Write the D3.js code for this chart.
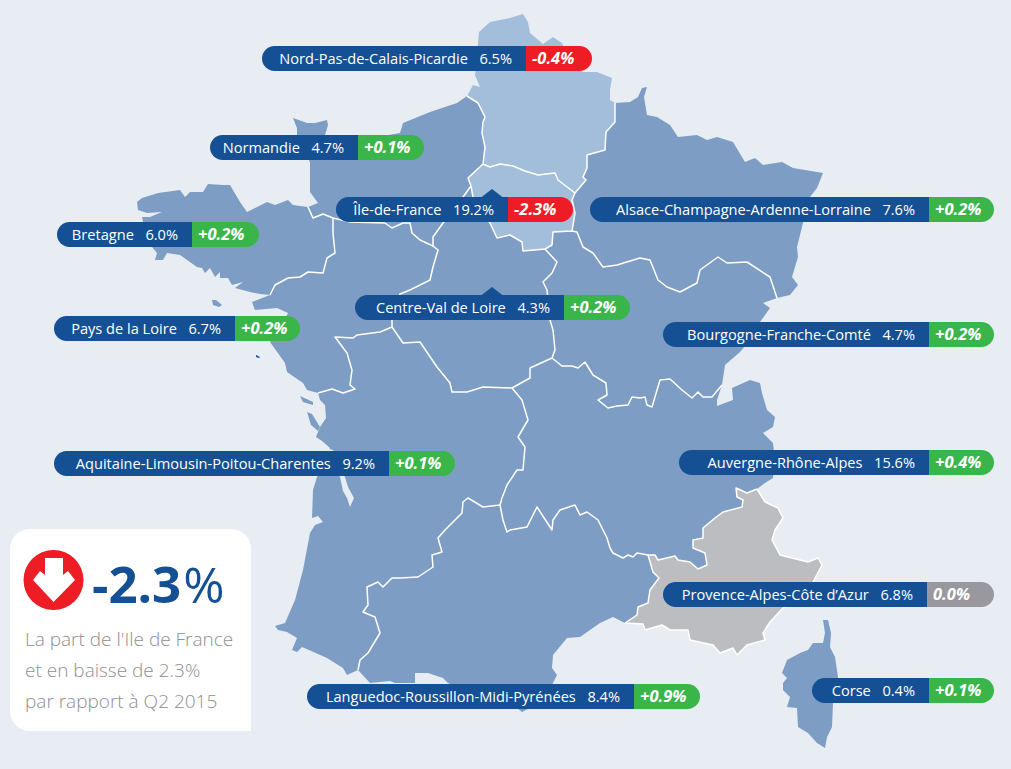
<!DOCTYPE html>
<html>
<head>
<meta charset="utf-8">
<script src="https://cdnjs.cloudflare.com/ajax/libs/d3/7.8.5/d3.min.js"></script>
<style>
html,body{margin:0;padding:0;background:#e8edf4;}
svg{display:block;}
text{font-family:"Open Sans","Noto Sans",sans-serif;white-space:pre;}
</style>
</head>
<body>
<svg id="c" width="1011" height="769"></svg>
<script>
// ---- values
const regionNames = ["Nord-Pas-de-Calais-Picardie","Normandie","Île-de-France","Alsace-Champagne-Ardenne-Lorraine","Bretagne","Centre-Val de Loire","Pays de la Loire","Bourgogne-Franche-Comté","Aquitaine-Limousin-Poitou-Charentes","Auvergne-Rhône-Alpes","Provence-Alpes-Côte d’Azur","Languedoc-Roussillon-Midi-Pyrénées","Corse"];
const shares  = [6.5,4.7,19.2,7.6,6.0,4.3,6.7,4.7,9.2,15.6,6.8,8.4,0.4];
const changes = [-0.4,0.1,-2.3,0.2,0.2,0.2,0.2,0.2,0.1,0.4,0.0,0.9,0.1];
const calloutValue = "-2.3";
const calloutLines = ["La part de l'Ile de France","et en baisse de 2.3%","par rapport à Q2 2015"];

// ---- map geometry (shared borders and coasts)
const coastNord=[[467,96],[473,85],[480,87],[475,75],[477,58],[478,43],[479,32],[490,22],[510,18],[523,14],[528,22],[530,33],[543,44],[553,37],[562,43],[570,60],[583,72],[597,72],[612,78],[610,90],[610,100],[615,103]];
const bNordAlsace=[[615,103],[615,122],[606,132],[605,150],[587,155],[587,168],[583,177],[586,180],[575,193]];
const bNordIdf=[[575,193],[558,180],[555,173],[538,175],[525,171],[513,166],[500,164],[490,167],[483,164]];
const bNordNorm=[[483,164],[485,147],[482,133],[483,122],[485,117],[478,103],[467,96]];
const bIdfNorm=[[483,164],[468,178],[471,186]];
const bIdfAlsace=[[575,193],[572,200],[575,213],[572,231]];
const bIdfBourg=[[572,231],[553,232],[552,245],[545,249]];
const bIdfCentre=[[545,249],[523,251],[522,242],[510,235],[497,238],[490,223],[478,205],[473,197],[471,186]];
const coastNorm=[[308,207],[318,203],[310,192],[310,163],[305,148],[297,135],[297,128],[293,118],[307,123],[315,123],[327,120],[328,125],[325,135],[360,140],[400,133],[403,123],[430,112],[457,103],[467,96]];
const bNormCentre=[[471,186],[463,197],[455,210],[443,223],[433,237],[433,246]];
const bNormPdl=[[433,246],[420,240],[412,233],[410,223],[403,223],[392,228],[385,223],[350,222],[333,218]];
const bNormBret=[[333,218],[323,214],[313,218],[308,207]];
const coastBret=[[308,207],[293,205],[288,200],[275,205],[267,202],[247,212],[240,202],[230,185],[223,185],[208,184],[203,192],[190,192],[185,197],[180,190],[158,193],[142,198],[137,202],[138,210],[147,213],[162,212],[150,217],[142,217],[146,235],[152,247],[157,253],[155,260],[163,260],[167,253],[180,255],[197,267],[202,268],[205,273],[210,268],[215,277],[220,272],[220,278],[228,278],[232,285],[243,282],[235,288],[250,292],[260,294],[270,295]];
const bBretPdl=[[270,295],[275,285],[288,278],[300,277],[308,272],[323,273],[327,258],[335,253],[333,233],[333,218]];
const coastPdl=[[270,295],[252,302],[255,310],[277,308],[288,313],[282,325],[270,342],[285,363],[287,372],[303,383],[307,390],[318,393]];
const bPdlAquit=[[318,393],[332,389],[343,393],[355,389],[350,385],[352,370],[347,353],[335,337],[353,338],[357,335],[380,332],[392,327]];
const bPdlCentre=[[392,327],[392,320],[400,294],[410,290],[430,280],[433,267],[438,250],[433,246]];
const bCentreAquit=[[392,327],[403,343],[420,342],[437,367],[450,383],[452,392],[467,392],[483,387],[512,388]];
const bCentreAuv=[[512,388],[530,378],[530,368],[552,358]];
const bCentreBourg=[[552,358],[555,350],[553,330],[550,320],[547,290],[543,282],[552,273],[557,262],[545,249]];
const coastAquit=[[318,393],[320,400],[325,405],[326,418],[320,427],[316,437],[322,441],[330,448],[325,465],[317,477],[313,490],[312,518],[318,516],[323,522],[315,525],[310,533],[303,570],[295,600],[285,623],[275,626],[278,630],[287,632],[297,638],[292,650],[297,652],[302,647],[327,658],[343,668],[347,675],[358,670]];
const bLangAquit=[[358,670],[360,660],[368,653],[380,633],[375,617],[363,612],[368,605],[367,587],[378,582],[383,587],[392,578],[400,578],[418,577],[433,567],[432,555],[442,552],[438,538],[445,530],[462,513],[463,502],[468,498],[483,507],[500,505]];
const bAquitAuv=[[512,388],[522,400],[528,420],[518,437],[525,447],[523,470],[517,470],[507,485],[502,498],[500,505]];
const bAuvBourg=[[552,358],[562,366],[572,366],[578,368],[585,362],[593,375],[606,383],[607,395],[598,400],[608,408],[617,406],[628,405],[632,397],[640,398],[645,397],[647,405],[652,407],[660,380],[670,379],[682,390],[692,398],[698,392],[703,397],[712,397],[722,385]];
const coastAuv=[[722,385],[717,400],[717,406],[733,400],[732,388],[750,380],[760,383],[762,393],[767,410],[775,417],[773,427],[763,433],[773,443],[775,460],[773,478],[765,483],[757,489]];
const bAuvPaca=[[757,489],[747,493],[736,488],[737,497],[743,500],[742,507],[723,512],[715,518],[703,528],[703,538],[693,540],[693,548],[705,553],[707,565],[698,569],[690,562],[678,560],[675,556],[658,560],[655,555],[648,555]];
const bAuvLang=[[648,555],[637,553],[633,557],[628,555],[623,558],[613,553],[610,548],[607,538],[598,520],[587,512],[580,515],[575,505],[560,510],[553,520],[552,530],[537,507],[527,527],[510,530],[507,532],[503,520],[500,505]];
const bLangPaca=[[648,555],[653,572],[659,578],[650,590],[648,603],[638,607],[637,615],[625,623]];
const coastLang=[[625,623],[613,617],[600,623],[580,637],[567,638],[553,655],[552,668],[557,675],[553,683],[550,690],[534,700],[530,708],[522,712],[517,708],[480,700],[448,683],[443,678],[428,673],[415,673],[415,683],[395,683],[390,681],[370,683],[358,670]];
const coastPaca=[[625,623],[643,624],[645,630],[662,625],[670,630],[688,630],[690,640],[713,645],[720,653],[733,648],[737,655],[747,645],[765,640],[763,633],[770,622],[783,608],[800,595],[813,582],[822,565],[818,558],[808,562],[780,555],[772,540],[775,530],[783,518],[778,508],[765,502],[757,489]];
const bBourgAlsace=[[572,231],[577,232],[583,247],[593,253],[603,267],[617,265],[640,258],[650,260],[658,280],[667,287],[680,292],[697,283],[700,270],[718,257],[727,263],[747,262],[770,277],[777,298]];
const coastAlsace=[[615,103],[630,102],[638,97],[642,88],[647,87],[644,97],[647,115],[657,117],[670,125],[678,137],[697,135],[707,140],[717,137],[733,142],[745,162],[755,158],[763,165],[782,162],[793,168],[823,173],[817,188],[810,197],[806,210],[803,223],[797,247],[798,257],[792,277],[798,285],[790,295],[777,298]];
const coastBourg=[[777,298],[763,303],[770,308],[760,322],[750,340],[740,352],[725,365],[722,385]];
const corsica=[[823,620],[828,620],[831,633],[830,647],[835,657],[838,677],[836,690],[833,703],[832,727],[827,737],[825,748],[817,743],[808,733],[798,727],[797,708],[787,707],[790,697],[783,690],[783,683],[787,678],[782,673],[787,660],[800,653],[808,650],[813,643],[823,643],[825,633]];
const islandRe=[[300,396],[313,402],[313,405],[303,402]];
const islandOleron=[[307,412],[312,414],[320,427],[318,431],[311,425]];
const islandBelle=[[212,300],[216,300],[222,305],[219,307],[213,305]];
const islandYeu=[[256,355],[260,357],[259,358],[256,357]];
const gironde=[[322,447],[333,450],[345,477],[348,487],[354,498],[350,507],[347,498],[343,491],[340,477]];

const rev=a=>a.slice().reverse();
const ring=(...segs)=>{const r=segs.flat();return r.concat([r[0]]);};
const poly=(coords,fill)=>({type:"Feature",properties:{fill},geometry:{type:"Polygon",coordinates:[coords]}});

const mapBlue="#7d9dc4", mapLight="#a3bedb", mapGrey="#bcbdc0", bg="#e8edf4";
const regions=[
 poly(ring(coastNord,bNordAlsace,bNordIdf,bNordNorm),mapLight),
 poly(ring(rev(bNordIdf),bIdfAlsace,bIdfBourg,bIdfCentre,rev(bIdfNorm)),mapLight),
 poly(ring(coastNorm,rev(bNordNorm),bIdfNorm,bNormCentre,bNormPdl,bNormBret),mapBlue),
 poly(ring(coastBret,bBretPdl,bNormBret),mapBlue),
 poly(ring(coastPdl,bPdlAquit,bPdlCentre,bNormPdl,rev(bBretPdl)),mapBlue),
 poly(ring(bIdfCentre,bNormCentre,rev(bPdlCentre),bCentreAquit,bCentreAuv,bCentreBourg),mapBlue),
 poly(ring(rev(bPdlAquit),coastAquit,bLangAquit,rev(bAquitAuv),rev(bCentreAquit)),mapBlue),
 poly(ring(bCentreAuv,bAuvBourg,coastAuv,bAuvPaca,bAuvLang,rev(bAquitAuv)),mapBlue),
 poly(ring(rev(bIdfBourg),bBourgAlsace,coastBourg,rev(bAuvBourg),bCentreBourg),mapBlue),
 poly(ring(coastAlsace,rev(bBourgAlsace),rev(bIdfAlsace),rev(bNordAlsace)),mapBlue),
 poly(ring(bLangAquit,rev(bAuvLang),bLangPaca,coastLang),mapBlue),
 poly(ring(bAuvPaca,bLangPaca,coastPaca),mapGrey),
 poly(ring(corsica),mapBlue),
 poly(ring(islandRe),mapBlue),
 poly(ring(islandOleron),mapBlue),
 poly(ring(islandBelle),mapBlue),
 poly(ring(islandYeu),"#154f94"),
 poly(ring(gironde),bg)
];
const innerBorders={type:"MultiLineString",coordinates:[bNordAlsace,bNordIdf,bNordNorm,bIdfNorm,bIdfAlsace,bIdfBourg,bIdfCentre,bNormCentre,bNormPdl,bNormBret,bBretPdl,bPdlAquit,bPdlCentre,bCentreAquit,bCentreAuv,bCentreBourg,bLangAquit,bAquitAuv,bAuvBourg,bAuvPaca,bAuvLang,bLangPaca,bBourgAlsace,coastPaca]};

// ---- label layout: [left, split, right, top]
const pillLayout=[[262,526,592,46],[210,358,424,135],[336,508,573,197],[590,929,994,197],[57,192,259,222],[355,564,630,295],[54,235,300,316],[663,929,994,322],[54,389,455,451],[679,929,994,450],[663,927,994,582],[307,634,700,684],[812,929,994,678]];
const pillH=25;

const svg=d3.select("#c");
svg.append("rect").attr("width",1011).attr("height",769).attr("fill",bg);

const path=d3.geoPath(d3.geoIdentity());
svg.append("g").selectAll("path").data(regions).join("path").attr("d",path).attr("fill",d=>d.properties.fill);
svg.append("path").datum(innerBorders).attr("d",path).attr("fill","none").attr("stroke","#fff").attr("stroke-width",1.5).attr("stroke-linejoin","round");

// pills
const dark="#154f94", red="#ee1c25", green="#39b54a", grey="#98989e";
const chgColor=v=>v<0?red:v>0?green:grey;
const fmtChg=v=>(v>0?"+":"")+v.toFixed(1)+"%";
const rounded=(x0,x1,y,h,left)=>{const r=h/2;
  return left?`M${x1},${y}H${x0+r}A${r},${r} 0 0 0 ${x0+r},${y+h}H${x1}Z`:`M${x0},${y}H${x1-r}A${r},${r} 0 0 1 ${x1-r},${y+h}H${x0}Z`;};
const rows=regionNames.map((n,i)=>({name:n,share:shares[i],chg:changes[i],l:pillLayout[i]}));
const g=svg.append("g").selectAll("g").data(rows).join("g");
g.append("path").attr("d",d=>rounded(d.l[0],d.l[1],d.l[3],pillH,true)).attr("fill",dark);
g.append("path").attr("d",d=>rounded(d.l[1],d.l[2],d.l[3],pillH,false)).attr("fill",d=>chgColor(d.chg));
const nameText=g.append("text").attr("x",d=>d.l[1]-14).attr("y",d=>d.l[3]+17.5).attr("text-anchor","end").attr("fill","#fff").attr("font-size",14.6);
nameText.append("tspan").text(d=>d.name);
nameText.append("tspan").attr("dx",4).text(d=>"  "+d.share.toFixed(1)+"%");
g.append("text").attr("x",d=>d.l[1]+6).attr("y",d=>d.l[3]+18).attr("fill","#fff").attr("font-size",16.5).attr("font-weight",700).attr("font-style","italic")
 .text(d=>fmtChg(d.chg));
// notch pointers for the two centre labels
svg.append("g").selectAll("path").data([2,5]).join("path")
 .attr("d",i=>{const t=pillLayout[i][3],x=492;return `M${x-11},${t+0.5}L${x},${t-8}L${x+11},${t+0.5}Z`;}).attr("fill",dark);

// callout
svg.append("path").attr("d","M30,529H231A20,20 0 0 1 251,549V731H30A20,20 0 0 1 10,711V549A20,20 0 0 1 30,529Z").attr("fill","#fff");
svg.append("circle").attr("cx",53.5).attr("cy",580).attr("r",30).attr("fill",red);
svg.append("path").attr("d","M45,558H63V575L68,571L75,580L53.5,602L33,580L40,571L45,575Z").attr("fill","#fff");
const big=svg.append("text").attr("x",92).attr("y",603).attr("font-size",51).attr("fill",dark);
big.append("tspan").attr("font-weight",700).text(calloutValue);
big.append("tspan").attr("font-weight",400).attr("font-size",50).attr("dx",2).text("%");
svg.append("g").selectAll("text").data(calloutLines).join("text")
 .attr("x",25).attr("y",(d,i)=>646+i*31).attr("font-size",19).attr("font-weight",300).attr("fill","#8d9094").text(d=>d);
</script>
</body>
</html>
